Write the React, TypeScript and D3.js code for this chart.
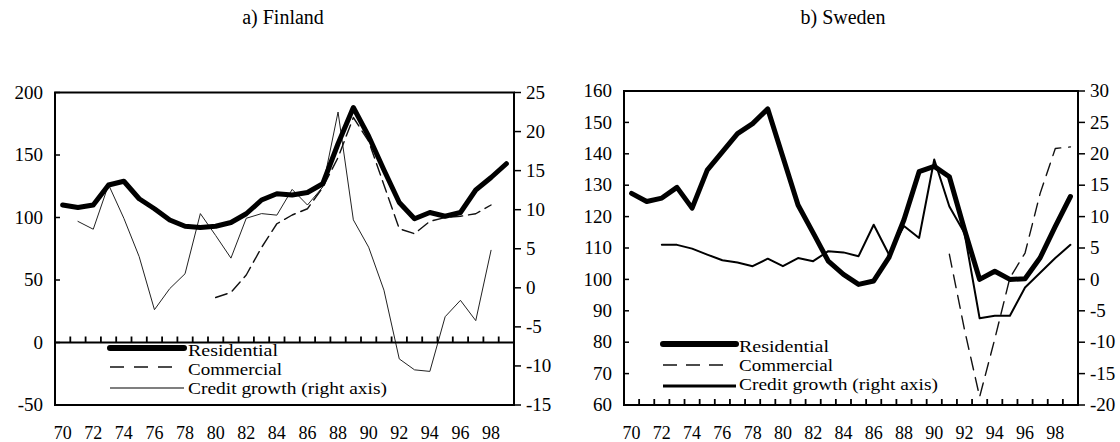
import React from 'react';
import * as d3 from 'd3';

// Years 1970–1999, shown as two-digit labels
const years: number[] = d3.range(70, 100);
const yearLabels: number[] = d3.range(70, 100, 2);

// a) Finland — property price indices (left axis) and credit growth, % (right axis)
const finResidential: (number | null)[] = [
  110, 108, 110, 126, 129, 115, 107, 98, 93, 92,
  93, 96, 103, 114, 119, 118, 120, 127, 159, 188,
  165, 138, 112, 99, 104, 101, 104, 122, 132, 143,
];
const finCommercial: (number | null)[] = [
  null, null, null, null, null, null, null, null, null, null,
  36, 40, 54, 76, 95, 102, 107, 124, 148, 180,
  161, 126, 91, 87, 97, 100, 101, 103, 110, null,
];
const finCredit: (number | null)[] = [
  null, 8.5, 7.5, 13.2, 8.9, 4.0, -2.8, -0.1, 1.8, 9.5,
  6.7, 3.8, 8.9, 9.5, 9.3, 12.6, 10.6, 12.9, 22.5, 8.7,
  5.2, -0.3, -9.1, -10.5, -10.7, -3.7, -1.6, -4.2, 4.8, null,
];
const finLeftTicks: number[] = [-50, 0, 50, 100, 150, 200];
const finRightTicks: number[] = [-15, -10, -5, 0, 5, 10, 15, 20, 25];

// b) Sweden
const sweResidential: (number | null)[] = [
  127.4, 124.8, 125.9, 129.3, 122.7, 134.8, 140.6, 146.4, 149.6, 154.3,
  139, 123.7, 114.8, 105.8, 101.6, 98.4, 99.5, 106.9, 119, 134.3,
  136, 132.7, 115.8, 100, 102.6, 100, 100.2, 106.9, 116.9, 126.4,
];
const sweCommercial: (number | null)[] = [
  null, null, null, null, null, null, null, null, null, null,
  null, null, null, null, null, null, null, null, null, null,
  null, 108, 84, 62.6, 81, 100.5, 108.4, 127.4, 141.7, 142.2,
];
const sweCredit: (number | null)[] = [
  null, null, 5.5, 5.5, 4.9, 3.95, 3.05, 2.7, 2.1, 3.3,
  2.1, 3.4, 2.9, 4.5, 4.3, 3.7, 8.7, 4.0, 8.5, 6.6,
  19.1, 11.6, 7.4, -6.2, -5.8, -5.8, -1.3, 1.05, 3.4, 5.5,
];
const sweLeftTicks: number[] = [60, 70, 80, 90, 100, 110, 120, 130, 140, 150, 160];
const sweRightTicks: number[] = [-20, -15, -10, -5, 0, 5, 10, 15, 20, 25, 30];

const legendLabels = ['Residential', 'Commercial', 'Credit growth (right axis)'];
const legendWidths = [90, 94, 199];

const FONT = "'Liberation Serif', 'Times New Roman', Times, serif";

type LineStyle = { width: number; dash?: string; color: string };

type PanelCfg = {
  title: string;
  titleX: number;
  x0: number;
  x1: number;
  y0: number;
  y1: number;
  leftDomain: [number, number];
  rightDomain: [number, number];
  leftTicks: number[];
  rightTicks: number[];
  residential: (number | null)[];
  commercial: (number | null)[];
  credit: (number | null)[];
  styles: { residential: LineStyle; commercial: LineStyle; credit: LineStyle };
  legendStyles: LineStyle[];
  zeroBaseline: boolean;
  legend: { x0: number; x1: number; textX: number; rows: number[]; baselines: number[]; dashX1: number };
};

function Panel({ cfg }: { cfg: PanelCfg }) {
  const x = d3.scaleBand<number>().domain(years).range([cfg.x0, cfg.x1]).padding(0);
  const bw = x.bandwidth();
  const cx = (yr: number) => (x(yr) as number) + bw / 2;
  const yL = d3.scaleLinear().domain(cfg.leftDomain).range([cfg.y1, cfg.y0]);
  const yR = d3.scaleLinear().domain(cfg.rightDomain).range([cfg.y1, cfg.y0]);

  const mk = (vals: (number | null)[], y: d3.ScaleLinear<number, number>) =>
    d3
      .line<number>()
      .defined((_, i) => vals[i] != null)
      .x((yr) => cx(yr))
      .y((_, i) => y(vals[i] as number))(years) || '';

  const tickBase = cfg.zeroBaseline ? yL(0) : cfg.y1;
  const boundaries = years.slice(0, -1).map((yr) => (x(yr) as number) + bw);

  const series = [
    { d: mk(cfg.credit, yR), s: cfg.styles.credit },
    { d: mk(cfg.commercial, yL), s: cfg.styles.commercial },
    { d: mk(cfg.residential, yL), s: cfg.styles.residential },
  ];

  const txt = { fontFamily: FONT };

  return (
    <g>
      <text x={cfg.titleX} y={24} textAnchor="middle" style={txt} fontSize={20}>
        {cfg.title}
      </text>

      {series.map((p, i) => (
        <path
          key={i}
          d={p.d}
          fill="none"
          stroke={p.s.color}
          strokeWidth={p.s.width}
          strokeDasharray={p.s.dash}
          strokeLinejoin="round"
          strokeLinecap="round"
        />
      ))}

      {/* frame */}
      <rect
        x={cfg.x0}
        y={cfg.y0}
        width={cfg.x1 - cfg.x0}
        height={cfg.y1 - cfg.y0}
        fill="none"
        stroke="#000"
        strokeWidth={2}
      />
      {cfg.zeroBaseline && (
        <line x1={cfg.x0} x2={cfg.x1} y1={yL(0)} y2={yL(0)} stroke="#000" strokeWidth={2.2} />
      )}

      {/* year ticks on band boundaries */}
      {boundaries.map((bx, i) => (
        <line key={i} x1={bx} x2={bx} y1={tickBase} y2={tickBase - 6} stroke="#000" strokeWidth={1.8} />
      ))}
      {yearLabels.map((yr) => (
        <text key={yr} x={cx(yr)} y={439} textAnchor="middle" style={txt} fontSize={18}>
          {yr}
        </text>
      ))}

      {/* left axis */}
      {cfg.leftTicks.map((t) => (
        <g key={'l' + t}>
          <line x1={cfg.x0} x2={cfg.x0 + 5} y1={yL(t)} y2={yL(t)} stroke="#000" strokeWidth={1.5} />
          <text x={cfg.x0 - 12} y={yL(t)} dy="0.33em" textAnchor="end" style={txt} fontSize={19}>
            {t}
          </text>
        </g>
      ))}

      {/* right axis */}
      {cfg.rightTicks.map((t) => (
        <g key={'r' + t}>
          <line x1={cfg.x1} x2={cfg.x1 + 7} y1={yR(t)} y2={yR(t)} stroke="#000" strokeWidth={1.5} />
          <text x={cfg.x1 + 12} y={yR(t)} dy="0.33em" textAnchor="start" style={txt} fontSize={19}>
            {t}
          </text>
        </g>
      ))}

      {/* legend */}
      {legendLabels.map((lab, i) => {
        const s = cfg.legendStyles[i];
        const lx1 = i === 1 ? cfg.legend.dashX1 : cfg.legend.x1;
        return (
          <g key={lab}>
            <line
              x1={cfg.legend.x0}
              x2={lx1}
              y1={cfg.legend.rows[i]}
              y2={cfg.legend.rows[i]}
              stroke={s.color}
              strokeWidth={s.width}
              strokeDasharray={s.dash}
              strokeLinecap={i === 0 ? 'round' : 'butt'}
            />
            <text
              x={cfg.legend.textX}
              y={cfg.legend.baselines[i]}
              style={txt}
              fontSize={17}
              textLength={legendWidths[i]}
              lengthAdjust="spacingAndGlyphs"
            >
              {lab}
            </text>
          </g>
        );
      })}
    </g>
  );
}

const finland: PanelCfg = {
  title: 'a) Finland',
  titleX: 283,
  x0: 55,
  x1: 514,
  y0: 92.5,
  y1: 405,
  leftDomain: [-50, 200],
  rightDomain: [-15, 25],
  leftTicks: finLeftTicks,
  rightTicks: finRightTicks,
  residential: finResidential,
  commercial: finCommercial,
  credit: finCredit,
  styles: {
    residential: { width: 5, color: '#000' },
    commercial: { width: 1.4, dash: '12 6', color: '#111' },
    credit: { width: 1, color: '#222' },
  },
  legendStyles: [
    { width: 6, color: '#000' },
    { width: 1.4, dash: '14 10', color: '#111' },
    { width: 1.2, color: '#000' },
  ],
  zeroBaseline: true,
  legend: { x0: 110, x1: 184, dashX1: 176, textX: 188, rows: [348, 367, 388], baselines: [356, 375, 394] },
};

const sweden: PanelCfg = {
  title: 'b) Sweden',
  titleX: 843,
  x0: 624,
  x1: 1078,
  y0: 91,
  y1: 405,
  leftDomain: [60, 160],
  rightDomain: [-20, 30],
  leftTicks: sweLeftTicks,
  rightTicks: sweRightTicks,
  residential: sweResidential,
  commercial: sweCommercial,
  credit: sweCredit,
  styles: {
    residential: { width: 5, color: '#000' },
    commercial: { width: 1.4, dash: '13 8', color: '#111' },
    credit: { width: 2, color: '#000' },
  },
  legendStyles: [
    { width: 6, color: '#000' },
    { width: 1.4, dash: '14 9', color: '#111' },
    { width: 3, color: '#000' },
  ],
  zeroBaseline: false,
  legend: { x0: 663, x1: 736, dashX1: 727, textX: 739, rows: [344, 365, 386], baselines: [352, 371, 390] },
};

export default function App() {
  return (
    <svg
      width={1120}
      height={442}
      viewBox="0 0 1120 442"
      style={{ position: 'absolute', left: 0, top: 0, background: '#fff' }}
    >
      <rect width={1120} height={442} fill="#fff" />
      <Panel cfg={finland} />
      <Panel cfg={sweden} />
    </svg>
  );
}
